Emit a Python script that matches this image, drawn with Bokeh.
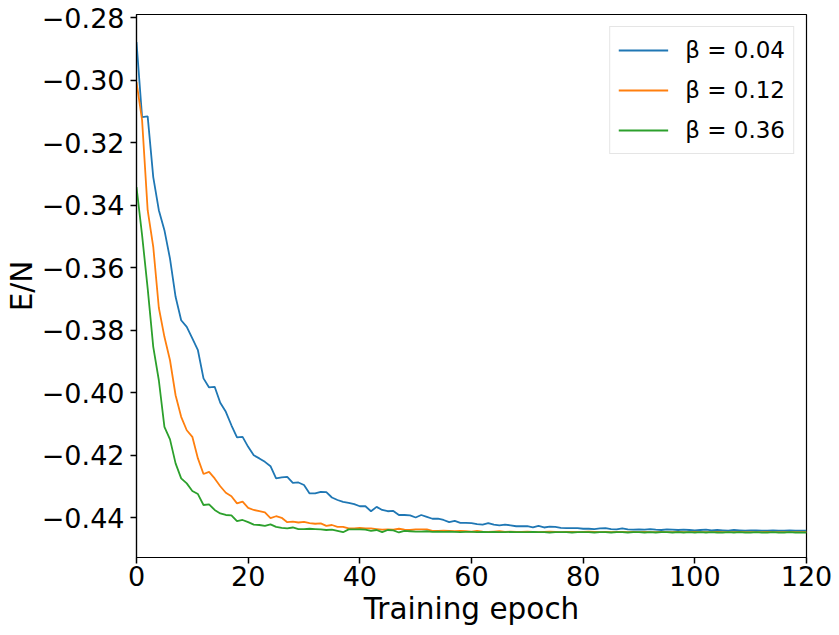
from bokeh.plotting import figure
from bokeh.models import Range1d, FixedTicker, Legend, LegendItem
from bokeh.embed import file_html
from bokeh.resources import INLINE

epochs = list(range(121))

series_labels = ["β = 0.04", "β = 0.12", "β = 0.36"]
series_colors = ["#1f77b4", "#ff7f0e", "#2ca02c"]

energy_beta_004 = [
    -0.2878, -0.3118, -0.3116, -0.3310, -0.3416, -0.3480, -0.3571, -0.3693, -0.3768, -0.3789,
    -0.3826, -0.3864, -0.3954, -0.3983, -0.3981, -0.4032, -0.4061, -0.4104, -0.4143, -0.4141,
    -0.4173, -0.4200, -0.4210, -0.4221, -0.4235, -0.4274, -0.4271, -0.4269, -0.4288, -0.4287,
    -0.4295, -0.4322, -0.4322, -0.4317, -0.4318, -0.4335, -0.4343, -0.4349, -0.4352, -0.4356,
    -0.4363, -0.4363, -0.4379, -0.4365, -0.4375, -0.4379, -0.4378, -0.4391, -0.4391, -0.4392,
    -0.4399, -0.4391, -0.4397, -0.4403, -0.4403, -0.4407, -0.4414, -0.4410, -0.4416, -0.4416,
    -0.4417, -0.4420, -0.4422, -0.4417, -0.4422, -0.4424, -0.4422, -0.4424, -0.4427, -0.4427,
    -0.4427, -0.4431, -0.4426, -0.4431, -0.4428, -0.4429, -0.4432, -0.4433, -0.4433, -0.4433,
    -0.4435, -0.4435, -0.4436, -0.4434, -0.4433, -0.4436, -0.4437, -0.4434, -0.4437, -0.4438,
    -0.4437, -0.4438, -0.4436, -0.4438, -0.4439, -0.4437, -0.4438, -0.4439, -0.4438, -0.4439,
    -0.4440, -0.4439, -0.4438, -0.4440, -0.4439, -0.4440, -0.4441, -0.4439, -0.4440, -0.4441,
    -0.4440, -0.4440, -0.4441, -0.4441, -0.4440, -0.4441, -0.4441, -0.4440, -0.4441, -0.4441,
    -0.4441,
]

energy_beta_012 = [
    -0.3006, -0.3128, -0.3416, -0.3533, -0.3728, -0.3821, -0.3896, -0.4008, -0.4077, -0.4120,
    -0.4141, -0.4210, -0.4260, -0.4253, -0.4274, -0.4299, -0.4320, -0.4331, -0.4354, -0.4348,
    -0.4368, -0.4375, -0.4379, -0.4383, -0.4401, -0.4395, -0.4400, -0.4414, -0.4412, -0.4415,
    -0.4413, -0.4417, -0.4419, -0.4418, -0.4426, -0.4423, -0.4429, -0.4429, -0.4434, -0.4434,
    -0.4432, -0.4434, -0.4434, -0.4436, -0.4438, -0.4437, -0.4438, -0.4435, -0.4438, -0.4439,
    -0.4437, -0.4437, -0.4437, -0.4442, -0.4442, -0.4441, -0.4442, -0.4443, -0.4442, -0.4443,
    -0.4444, -0.4442, -0.4444, -0.4445, -0.4444, -0.4443, -0.4445, -0.4444, -0.4445, -0.4445,
    -0.4444, -0.4445, -0.4446, -0.4445, -0.4444, -0.4445, -0.4446, -0.4445, -0.4445, -0.4446,
    -0.4445, -0.4444, -0.4445, -0.4446, -0.4445, -0.4446, -0.4445, -0.4445, -0.4446, -0.4445,
    -0.4446, -0.4445, -0.4446, -0.4446, -0.4445, -0.4446, -0.4446, -0.4445, -0.4446, -0.4446,
    -0.4445, -0.4446, -0.4446, -0.4446, -0.4445, -0.4446, -0.4446, -0.4446, -0.4445, -0.4446,
    -0.4446, -0.4446, -0.4446, -0.4445, -0.4446, -0.4446, -0.4446, -0.4446, -0.4446, -0.4446,
    -0.4446,
]

energy_beta_036 = [
    -0.3342, -0.3496, -0.3666, -0.3853, -0.3960, -0.4109, -0.4149, -0.4226, -0.4274, -0.4290,
    -0.4314, -0.4324, -0.4359, -0.4357, -0.4375, -0.4386, -0.4391, -0.4392, -0.4411, -0.4407,
    -0.4414, -0.4422, -0.4423, -0.4426, -0.4421, -0.4429, -0.4432, -0.4434, -0.4431, -0.4436,
    -0.4436, -0.4435, -0.4436, -0.4437, -0.4439, -0.4438, -0.4442, -0.4446, -0.4437, -0.4437,
    -0.4437, -0.4438, -0.4442, -0.4439, -0.4446, -0.4439, -0.4440, -0.4447, -0.4442, -0.4443,
    -0.4444, -0.4444, -0.4443, -0.4445, -0.4444, -0.4445, -0.4444, -0.4445, -0.4446, -0.4445,
    -0.4445, -0.4446, -0.4445, -0.4446, -0.4445, -0.4446, -0.4446, -0.4445, -0.4446, -0.4446,
    -0.4446, -0.4445, -0.4446, -0.4446, -0.4447, -0.4446, -0.4446, -0.4446, -0.4447, -0.4446,
    -0.4446, -0.4446, -0.4447, -0.4446, -0.4446, -0.4447, -0.4446, -0.4446, -0.4447, -0.4446,
    -0.4446, -0.4447, -0.4446, -0.4447, -0.4446, -0.4446, -0.4447, -0.4446, -0.4447, -0.4446,
    -0.4447, -0.4446, -0.4447, -0.4446, -0.4447, -0.4447, -0.4446, -0.4447, -0.4446, -0.4447,
    -0.4447, -0.4446, -0.4447, -0.4447, -0.4446, -0.4447, -0.4447, -0.4446, -0.4447, -0.4447,
    -0.4447,
]

x_ticks = [0, 20, 40, 60, 80, 100, 120]
x_tick_labels = ["0", "20", "40", "60", "80", "100", "120"]
y_ticks = [-0.44, -0.42, -0.40, -0.38, -0.36, -0.34, -0.32, -0.30, -0.28]
y_tick_labels = ["−0.44", "−0.42", "−0.40", "−0.38", "−0.36", "−0.34", "−0.32", "−0.30", "−0.28"]

x_label = "Training epoch"
y_label = "E/N"

FONT = "DejaVu Sans"

p = figure(
    width=839, height=635,
    min_border_left=136, min_border_right=33, min_border_top=14, min_border_bottom=78,
    x_range=Range1d(0, 120), y_range=Range1d(-0.4527, -0.2790),
    output_backend="svg", toolbar_location=None,
    background_fill_color="white", border_fill_color="white",
)

p.xgrid.visible = False
p.ygrid.visible = False
p.outline_line_color = "black"
p.outline_line_width = 1.2
p.outline_line_alpha = 1.0

for ax in (p.xaxis[0], p.yaxis[0]):
    ax.axis_line_color = "black"
    ax.axis_line_width = 1.2
    ax.major_tick_line_color = "black"
    ax.major_tick_line_width = 1.5
    ax.major_tick_in = 0
    ax.major_tick_out = 6
    ax.minor_tick_line_color = None
    ax.major_label_text_font = FONT
    ax.major_label_text_font_size = "27px"
    ax.major_label_text_color = "black"
    ax.axis_label_text_font = FONT
    ax.axis_label_text_font_size = "29.5px"
    ax.axis_label_text_font_style = "normal"
    ax.axis_label_text_color = "black"

p.xaxis.ticker = FixedTicker(ticks=x_ticks)
p.xaxis.major_label_overrides = dict(zip(x_ticks, x_tick_labels))
p.xaxis.major_label_standoff = 2
p.xaxis.axis_label = x_label
p.xaxis.axis_label_standoff = 3

p.yaxis.ticker = FixedTicker(ticks=y_ticks)
p.yaxis.major_label_overrides = dict(zip(y_ticks, y_tick_labels))
p.yaxis.major_label_standoff = 6
p.yaxis.axis_label = y_label
p.yaxis.axis_label_standoff = 0

series = [energy_beta_004, energy_beta_012, energy_beta_036]
items = []
for vals, lab, col in zip(series, series_labels, series_colors):
    r = p.line(epochs, vals, line_color=col, line_width=1.8)
    items.append(LegendItem(label=lab, renderers=[r]))

legend = Legend(
    items=items, location="top_right", margin=12,
    label_text_font=FONT, label_text_font_size="23px", label_text_color="black",
    glyph_width=50, glyph_height=30, label_height=30, label_standoff=17,
    spacing=10, padding=8,
    border_line_color="#cccccc", border_line_width=1,
    background_fill_color="white", background_fill_alpha=0.8,
)
p.add_layout(legend)

open("out.html", "w").write(file_html(p, INLINE))
